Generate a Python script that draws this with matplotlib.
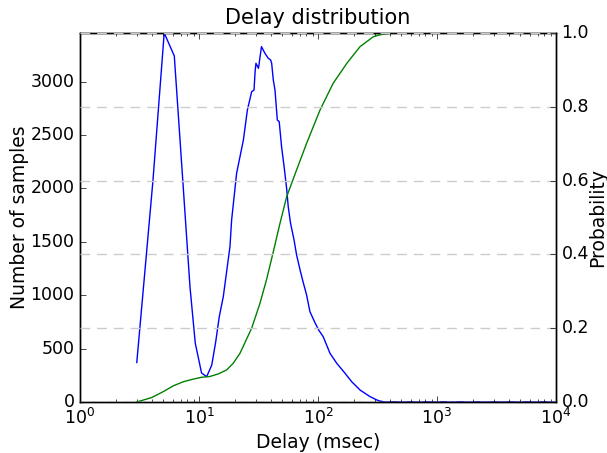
import matplotlib
matplotlib.use('Agg')
import matplotlib.pyplot as plt

# histogram of delays (msec -> number of samples)
delay = [3.0, 4.1, 5.1, 6.2, 7.3, 8.4, 9.3, 10.5, 11.6, 12.8, 13.8, 14.8, 16.0,
         18.2, 18.8, 20.7, 23.6, 25.5, 27.7, 29.0, 29.6, 30.1, 31.6, 33.5, 35.8,
         38.2, 40.0, 40.8, 42.1, 43.5, 45.5, 47.2, 49.4, 51.9, 54.5, 56.2, 58.8,
         62.9, 66.1, 70.7, 74.2, 80.2, 85.5, 94.8, 101.3, 110.6, 126.1, 143.8,
         168.7, 191.8, 225.6, 273.8, 311.9, 331.0, 365.0, 1000.0, 10000.0]
samples = [370, 2070, 3455, 3240, 2080, 1077, 552, 272, 237, 346, 560, 799, 986,
           1454, 1704, 2141, 2453, 2734, 2905, 2921, 3093, 3171, 3124, 3327, 3265,
           3218, 3202, 3171, 3015, 2921, 2640, 2625, 2390, 2203, 2000, 1829, 1673,
           1517, 1376, 1236, 1142, 1002, 846, 737, 674, 611, 456, 362,
           269, 190, 112, 50, 19, 9, 0, 0, 0]

# cumulative distribution
cdf_delay = [3.0, 4.0, 5.0, 6.1, 7.4, 8.95, 10.5, 12.3, 14.5, 17.1, 19.4, 22.1,
             27.7, 32.5, 36.9, 42.1, 47.9, 54.5, 66.1, 80.2, 103.9, 134.2, 174.9,
             225.6, 292.2, 331.0, 420.0, 1000.0, 10000.0]
cdf_prob = [0.0, 0.012, 0.028, 0.044, 0.055, 0.062, 0.067, 0.069, 0.076, 0.087,
            0.105, 0.132, 0.20, 0.267, 0.331, 0.407, 0.484, 0.556, 0.629, 0.701,
            0.791, 0.864, 0.918, 0.963, 0.990, 0.995, 1.0, 1.0, 1.0]

plt.style.use('classic')
plt.rcParams['font.family'] = ['DejaVu Sans']

fig = plt.figure(figsize=(6.07, 4.53), dpi=100, facecolor='white')
ax = fig.add_axes([0.1318, 0.1126, 0.7842, 0.8146])
ax.plot(delay, samples, color='b', lw=1)
ax.set_xscale('log')
ax.set_xlim(1, 1e4)
ax.set_ylim(0, max(samples))
ax.tick_params(labelsize=12.5)
ax.set_xlabel('Delay (msec)', fontsize=13.5, labelpad=4)
ax.set_ylabel('Number of samples', fontsize=13.5, labelpad=1)
ax.set_title('Delay distribution', fontsize=15, y=1.005)

ax2 = ax.twinx()
ax2.plot(cdf_delay, cdf_prob, color='g', lw=1)
ax2.set_ylim(0, 1)
ax2.set_xlim(1, 1e4)
ax2.tick_params(labelsize=12.5)
ax2.set_ylabel('Probability', fontsize=13.5, labelpad=-1)
ax2.yaxis.grid(True, linestyle=(0, (7, 5)), color='0.8', lw=1)

fig.savefig('out.png', dpi=100, facecolor='white')
